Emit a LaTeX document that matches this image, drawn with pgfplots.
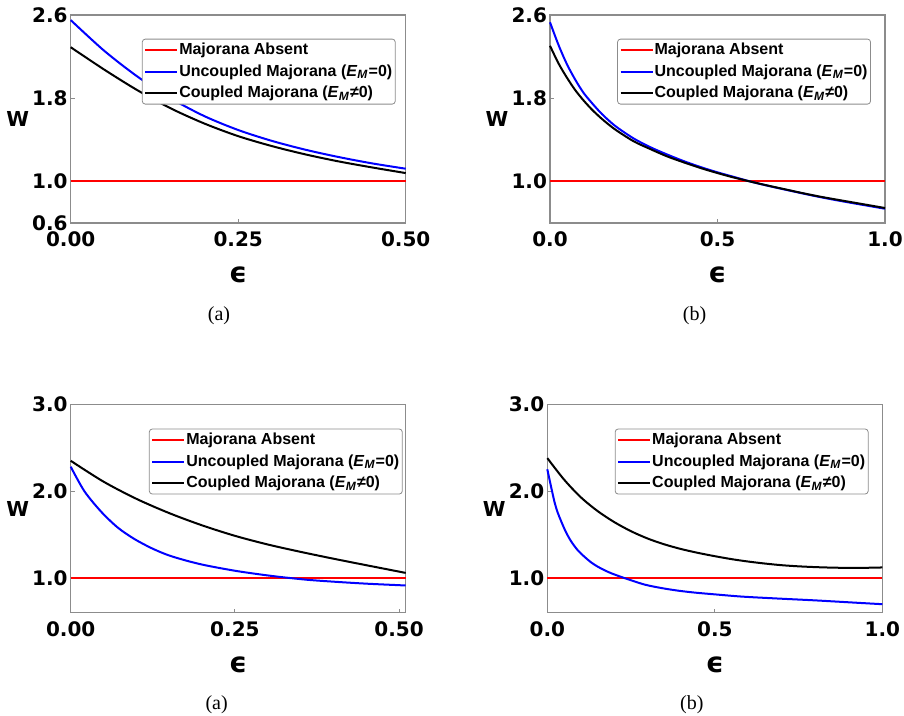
\documentclass[border=0pt]{standalone}
\usepackage{fontspec}
\setmainfont{Liberation Serif}
\newfontfamily\djv{DejaVu Sans}
\newfontfamily\lib{Liberation Sans}
\usepackage{pgfplots}
\pgfplotsset{compat=1.18}

\definecolor{framegray}{RGB}{140,140,140}

\pgfplotsset{
  panel/.style={
    scale only axis, width=167.5pt, height=104pt,
    axis line style={framegray, line width=0.6pt},
    tick style={framegray, line width=0.5pt},
    tick align=inside, major tick length=2pt,
    xtick pos=left, ytick pos=left,
    tick label style={font=\djv\bfseries\fontsize{10}{12}\selectfont},
    yticklabel style={xshift=2pt},
    xticklabel style={yshift=-1pt},
    every axis y label/.style={at={(rel axis cs:0,0.5)}, anchor=center,
      xshift=-26.5pt, font=\djv\bfseries\fontsize{10.3}{12}\selectfont},
    every axis x label/.style={at={(rel axis cs:0.5,0)}, anchor=center,
      yshift=-26pt, font=\djv\bfseries\fontsize{14}{16}\selectfont},
    xlabel={ϵ}, ylabel={W},
    ymin=0.6,
    legend cell align=left,
    legend style={draw=framegray, rounded corners=1.5pt,
      font=\lib\bfseries\fontsize{8}{9}\selectfont,
      inner xsep=1pt, inner ysep=0.7pt, row sep=1.3pt,
      nodes={inner sep=0.5pt, text height=6.5pt, text depth=2pt},
      anchor=north east},
    legend image code/.code={\draw[#1, line width=1pt] (0pt,0pt) -- (16pt,0pt);},
    clip=false,
  },
  absent/.style={red, line width=1pt},
  uncoup/.style={blue, line width=1pt, smooth},
  coup/.style={black, line width=1pt, smooth},
}

\newcommand{\entries}{%
  \addlegendentry{Majorana Absent}
  \addlegendentry{Uncoupled Majorana (\textit{E}\textsubscript{\textit{M}}=0)}
  \addlegendentry{Coupled Majorana (\textit{E}\textsubscript{\textit{M}}≠0)}}

\begin{document}
\begin{tikzpicture}
\useasboundingbox (0,0) rectangle (452pt,358pt);

% top left
\begin{axis}[panel, name=p1, at={(35.35pt,246.5pt)}, anchor=south west,
  xmin=0, xmax=0.5, ymax=2.6,
  xtick={0,0.25,0.5}, xticklabels={0.00,0.25,0.50},
  ytick={0.6,1.0,1.8,2.6}, yticklabels={0.6,1.0,1.8,2.6},
  legend style={at={(rel axis cs:0.970,0.886)}}]
\addplot[absent] coordinates {(0,1) (0.5,1)};
\addplot[uncoup] coordinates {
  (0,2.551) (0.05,2.256) (0.1,2.006) (0.15,1.796) (0.2,1.626) (0.25,1.494)
  (0.3,1.39) (0.35,1.305) (0.4,1.234) (0.45,1.173) (0.5,1.122)};
\addplot[coup] coordinates {
  (0,2.29) (0.05,2.075) (0.1,1.875) (0.15,1.70) (0.2,1.555) (0.25,1.435)
  (0.3,1.34) (0.35,1.26) (0.4,1.192) (0.45,1.134) (0.5,1.08)};
\entries
\end{axis}

% top right
\begin{axis}[panel, name=p2, at={(275pt,246.5pt)}, anchor=south west,
  xmin=0, xmax=1, ymax=2.6,
  xtick={0,0.5,1}, xticklabels={0.0,0.5,1.0},
  ytick={1.0,1.8,2.6}, yticklabels={1.0,1.8,2.6},
  legend style={at={(rel axis cs:0.958,0.886)}}]
\addplot[absent] coordinates {(0,1) (1,1)};
\addplot[uncoup] coordinates {
  (0,2.53) (0.025,2.315) (0.05,2.13) (0.075,1.98) (0.1,1.852) (0.125,1.754)
  (0.15,1.664) (0.175,1.587) (0.2,1.52) (0.25,1.412) (0.3,1.328) (0.35,1.258)
  (0.4,1.194) (0.45,1.137) (0.5,1.087) (0.55,1.042) (0.6,0.997) (0.65,0.958)
  (0.7,0.922) (0.75,0.887) (0.8,0.853) (0.85,0.822) (0.9,0.793) (0.95,0.765)
  (1.0,0.737)};
\addplot[coup] coordinates {
  (0,2.304) (0.025,2.137) (0.05,2.0) (0.075,1.879) (0.1,1.779) (0.125,1.691)
  (0.15,1.615) (0.175,1.547) (0.2,1.487) (0.25,1.385) (0.3,1.31) (0.35,1.24)
  (0.4,1.182) (0.45,1.128) (0.5,1.08) (0.55,1.036) (0.6,0.997) (0.65,0.96)
  (0.7,0.925) (0.75,0.89) (0.8,0.857) (0.85,0.828) (0.9,0.80) (0.95,0.772)
  (1.0,0.744)};
\entries
\end{axis}

% bottom left
\begin{axis}[panel, name=p3, at={(35.35pt,51.65pt)}, anchor=south west,
  xmin=0, xmax=0.51, ymax=3.0,
  xtick={0,0.25,0.5}, xticklabels={0.00,0.25,0.50},
  ytick={1.0,2.0,3.0}, yticklabels={1.0,2.0,3.0},
  legend style={at={(rel axis cs:0.991,0.885)}}]
\addplot[absent] coordinates {(0,1) (0.51,1)};
\addplot[uncoup] coordinates {
  (0,2.285) (0.021,2.0) (0.047,1.76) (0.072,1.58) (0.097,1.45) (0.123,1.345)
  (0.148,1.265) (0.174,1.205) (0.199,1.157) (0.227,1.115) (0.255,1.078)
  (0.285,1.045) (0.316,1.015) (0.36,0.98) (0.4,0.958) (0.45,0.935) (0.51,0.914)};
\addplot[coup] coordinates {
  (0,2.353) (0.05,2.112) (0.1,1.914) (0.15,1.749) (0.2,1.608) (0.25,1.487)
  (0.3,1.387) (0.35,1.302) (0.4,1.223) (0.45,1.148) (0.51,1.059)};
\entries
\end{axis}

% bottom right
\begin{axis}[panel, name=p4, at={(273.65pt,51.65pt)}, anchor=south west,
  xmin=0, xmax=1, ymax=3.0,
  xtick={0,0.5,1}, xticklabels={0.0,0.5,1.0},
  ytick={1.0,2.0,3.0}, yticklabels={1.0,2.0,3.0},
  legend style={at={(rel axis cs:0.959,0.885)}}]
\addplot[absent] coordinates {(0,1) (1,1)};
\addplot[uncoup] coordinates {
  (0,2.255) (0.012,2.04) (0.022,1.87) (0.032,1.745) (0.052,1.56) (0.07,1.43)
  (0.091,1.32) (0.111,1.245) (0.131,1.18) (0.151,1.13) (0.171,1.09) (0.191,1.055)
  (0.23,1.0) (0.29,0.925) (0.34,0.885) (0.389,0.855) (0.44,0.832) (0.4985,0.812)
  (0.58,0.786) (0.68,0.765) (0.8,0.742) (0.9,0.72) (1.0,0.698)};
\addplot[coup] coordinates {
  (0,2.384) (0.05,2.136) (0.1,1.932) (0.15,1.773) (0.2,1.645) (0.25,1.54)
  (0.3,1.455) (0.35,1.388) (0.4,1.334) (0.45,1.29) (0.5,1.252) (0.55,1.218)
  (0.6,1.19) (0.65,1.167) (0.7,1.148) (0.75,1.135) (0.8,1.126) (0.85,1.12)
  (0.9,1.117) (0.95,1.118) (1.0,1.122)};
\entries
\end{axis}

\node[font=\fontsize{10}{12}\selectfont] at ([xshift=-9.6pt,yshift=-46.3pt]p1.south) {(a)};
\node[font=\fontsize{10}{12}\selectfont] at ([xshift=-11.5pt,yshift=-46.3pt]p2.south) {(b)};
\node[font=\fontsize{10}{12}\selectfont] at ([xshift=-10.8pt,yshift=-46.2pt]p3.south) {(a)};
\node[font=\fontsize{10}{12}\selectfont] at ([xshift=-11.5pt,yshift=-46.2pt]p4.south) {(b)};
\end{tikzpicture}
\end{document}
